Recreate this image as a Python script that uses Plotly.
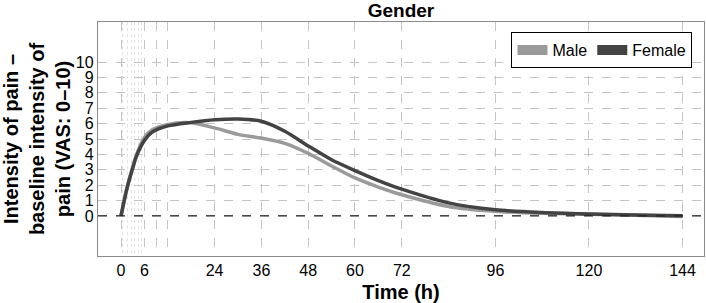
import plotly.graph_objects as go

# ---- data ----
time_h = [0, 1.5, 3, 4, 6, 8, 12, 18, 24, 30, 36, 42, 48, 54, 60, 66, 72, 84, 96, 108, 120, 132, 144]
male = [0, 1.8, 3.2, 4.0, 5.1, 5.6, 5.95, 6.05, 5.72, 5.3, 5.06, 4.72, 4.07, 3.25, 2.47, 1.88, 1.38, 0.62, 0.3, 0.17, 0.12, 0.05, -0.04]
female = [0, 1.75, 3.1, 3.9, 4.9, 5.45, 5.85, 6.08, 6.25, 6.3, 6.15, 5.5, 4.55, 3.65, 2.95, 2.3, 1.74, 0.85, 0.4, 0.22, 0.13, 0.07, 0.02]

x_tick_vals = [0, 6, 9, 12, 24, 36, 48, 60, 72, 96, 120, 144]
x_tick_text = ["0", "6", "", "", "24", "36", "48", "60", "72", "96", "120", "144"]
x_minor_grid = [0.5, 1.75, 2.75, 3.5, 4.4, 5.3]
y_tick_vals = list(range(0, 11))
y_tick_text = [str(v) for v in y_tick_vals]

series_names = ["Male", "Female"]
series_colors = ["#9a9a9a", "#434343"]

FONT = "Liberation Sans, Arial, sans-serif"

fig = go.Figure()
for name, ys, col in zip(series_names, [male, female], series_colors):
    fig.add_trace(go.Scatter(
        x=time_h, y=ys, mode="lines", name=name, showlegend=False,
        line=dict(color=col, width=3.5, shape="spline", smoothing=0.8),
        hoverinfo="skip"))
    # legend swatch (rectangle-like)
    fig.add_trace(go.Scatter(
        x=[None], y=[None], mode="lines", name=name, showlegend=True,
        line=dict(color=col, width=11)))

# dashed zero reference line
fig.add_shape(type="line", xref="paper", yref="y", x0=0, x1=1, y0=0, y1=0,
              line=dict(color="#222222", width=1.2, dash="dash"), layer="above")

fig.update_layout(
    width=706, height=303,
    margin=dict(l=98, r=2, t=22, b=47),
    paper_bgcolor="white", plot_bgcolor="white",
    font=dict(family=FONT, color="#000000", size=15),
    title=dict(text="<b>Gender</b>", font=dict(size=19, family=FONT),
               x=0.5, xref="paper", xanchor="center",
               y=1 - 10 / 303, yref="container", yanchor="middle"),
    legend=dict(orientation="h", x=0.981, xanchor="right", y=0.957, yanchor="top",
                bordercolor="#000000", borderwidth=1, bgcolor="white",
                font=dict(size=16, family=FONT), itemwidth=30,
                traceorder="normal"),
    showlegend=True,
)

fig.update_xaxes(
    range=[-5.9, 149.5], tickmode="array", tickvals=x_tick_vals, ticktext=x_tick_text,
    showgrid=True, gridcolor="#c4c4c4", griddash="dash", gridwidth=1,
    minor=dict(tickmode="array", tickvals=x_minor_grid, showgrid=True,
               gridcolor="#e2e2e2", griddash="dot", gridwidth=1, ticks=""),
    zeroline=False, showline=True, linecolor="#8a8a8a", linewidth=1.3, mirror=True,
    ticks="", tickfont=dict(size=16, family=FONT),
    title=dict(text="<b>Time (h)</b>", font=dict(size=20, family=FONT), standoff=6),
    automargin=False,
)
fig.update_yaxes(
    range=[-2.6, 12.6], tickmode="array", tickvals=y_tick_vals, ticktext=y_tick_text,
    showgrid=True, gridcolor="#c4c4c4", griddash="dash", gridwidth=1,
    zeroline=False, showline=True, linecolor="#8a8a8a", linewidth=1.3, mirror=True,
    ticks="", tickfont=dict(size=16, family=FONT),
    title=dict(text="<b>Intensity of pain –<br>baseline intensity of<br>pain (VAS: 0–10)</b>",
               font=dict(size=20, family=FONT), standoff=8),
    automargin=False,
)

fig.write_html("out.html", config={"displayModeBar": False},
               post_script="document.body.style.margin='0';document.body.style.overflow='hidden';")
